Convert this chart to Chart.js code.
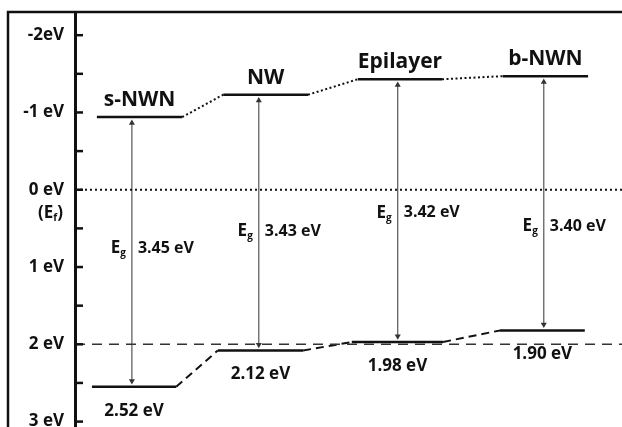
<!DOCTYPE html>
<html>
<head>
<meta charset="utf-8">
<script src="https://cdn.jsdelivr.net/npm/chart.js@4.4.0/dist/chart.umd.min.js"></script>
<style>
  html, body { margin: 0; padding: 0; background: #fff; }
  #wrap { width: 622px; height: 427px; }
</style>
</head>
<body>
<div id="wrap"><canvas id="band"></canvas></div>
<script>
// band edges (eV, Fermi level = 0, up is negative)
var materials = ['s-NWN', 'NW', 'Epilayer', 'b-NWN'];
var cbLevel   = [-0.94, -1.23, -1.43, -1.47];
var vbLevel   = [2.55, 2.08, 1.97, 1.82];
var gapLabels = ['3.45 eV', '3.43 eV', '3.42 eV', '3.40 eV'];
var vbLabels  = ['2.52 eV', '2.12 eV', '1.98 eV', '1.90 eV'];
var fermiLevel = 0;
var refLevel   = 2;

// y axis ticks
var tickValues = [-2, -1.5, -1, -0.5, 0, 0.5, 1, 1.5, 2, 2.5, 3];
var tickLabels = {'-2': '-2eV', '-1': '-1 eV', '0': '0 eV', '1': '1 eV', '2': '2 eV', '3': '3 eV'};

// where each material sits along the (unlabelled) x axis, 0..10
var cbFrom = [0.40, 2.71, 5.17, 7.82];
var cbTo   = [1.96, 4.26, 6.71, 9.38];
var vbFrom = [0.31, 2.61, 5.06, 7.77];
var vbTo   = [1.85, 4.17, 6.73, 9.32];
var arrowX = [1.04, 3.36, 5.90, 8.57];
var gapTextAt = [0.76, 0.54, 0.30, 0.47];

var FONT = '"Open Sans", Lato, sans-serif';
var INK = '#111';

function levelPath(from, to, level) {
    var pts = [];
    for (var i = 0; i < level.length; i++) {
        pts.push({x: from[i], y: level[i]});
        pts.push({x: to[i], y: level[i]});
    }
    return pts;
}

function arrowPoints() {
    var pts = [], h = 0.075;
    for (var i = 0; i < arrowX.length; i++) {
        pts.push({x: arrowX[i], y: cbLevel[i] + h});
        pts.push({x: arrowX[i], y: vbLevel[i] - h});
        pts.push({x: arrowX[i], y: null});
    }
    return pts;
}

var textPlugin = {
    id: 'bandText',
    afterDraw: function(chart) {
        var ctx = chart.ctx, xs = chart.scales.x, ys = chart.scales.y;
        var area = chart.chartArea;
        ctx.save();

        // outer frame
        ctx.strokeStyle = INK;
        ctx.lineWidth = 2.5;
        ctx.beginPath();
        ctx.moveTo(8, chart.height + 2);
        ctx.lineTo(8, area.top);
        ctx.lineTo(chart.width + 2, area.top);
        ctx.stroke();

        // tick marks pointing into the plot
        ctx.lineWidth = 2.5;
        ys.ticks.forEach(function(t) {
            var py = ys.getPixelForValue(t.value);
            ctx.beginPath();
            ctx.moveTo(area.left, py);
            ctx.lineTo(area.left + 8, py);
            ctx.stroke();
        });

        ctx.fillStyle = INK;

        // (Ef) under 0 eV
        var fy = ys.getPixelForValue(fermiLevel) + 23;
        ctx.textBaseline = 'middle';
        ctx.textAlign = 'left';
        ctx.font = 'bold 17px ' + FONT;
        var w1 = ctx.measureText('(E').width;
        ctx.font = 'bold 10px ' + FONT;
        var w2 = ctx.measureText('f').width;
        ctx.font = 'bold 17px ' + FONT;
        var w3 = ctx.measureText(')').width;
        var fx = 63 - (w1 + w2 + w3);
        ctx.fillText('(E', fx, fy);
        ctx.font = 'bold 10px ' + FONT;
        ctx.fillText('f', fx + w1, fy + 5);
        ctx.font = 'bold 17px ' + FONT;
        ctx.fillText(')', fx + w1 + w2, fy);

        for (var i = 0; i < materials.length; i++) {
            // material name above conduction band
            var cx = xs.getPixelForValue((cbFrom[i] + cbTo[i]) / 2);
            var cy = ys.getPixelForValue(cbLevel[i]);
            ctx.font = 'bold 21px ' + FONT;
            ctx.textAlign = 'center';
            ctx.textBaseline = 'middle';
            ctx.fillText(materials[i], cx, cy - 17);

            // valence band value below
            var vx = xs.getPixelForValue((vbFrom[i] + vbTo[i]) / 2);
            var vy = ys.getPixelForValue(vbLevel[i]);
            ctx.font = 'bold 17px ' + FONT;
            ctx.fillText(vbLabels[i], vx, vy + 24);

            // Eg label beside the arrow
            var ax = xs.getPixelForValue(arrowX[i]);
            var gy = ys.getPixelForValue(gapTextAt[i]);
            ctx.font = 'bold 16px ' + FONT;
            ctx.textAlign = 'left';
            ctx.fillText(gapLabels[i], ax + 6, gy);
            ctx.font = 'bold 10px ' + FONT;
            var gw = ctx.measureText('g').width;
            ctx.font = 'bold 17px ' + FONT;
            var ew = ctx.measureText('E').width;
            var ex = ax - 6 - gw - ew;
            ctx.fillText('E', ex, gy);
            ctx.font = 'bold 10px ' + FONT;
            ctx.fillText('g', ex + ew, gy + 5);
        }
        ctx.restore();
    }
};

var chart = new Chart(document.getElementById('band'), {
    type: 'line',
    data: {
        datasets: [
            {
                data: [{x: 0, y: fermiLevel}, {x: 10, y: fermiLevel}],
                borderColor: INK,
                borderWidth: 2,
                borderDash: [2, 3],
                pointRadius: 0
            },
            {
                data: [{x: 0, y: refLevel}, {x: 10, y: refLevel}],
                borderColor: '#333',
                borderWidth: 1.4,
                borderDash: [10, 7],
                pointRadius: 0
            },
            {
                data: levelPath(cbFrom, cbTo, cbLevel),
                borderColor: INK,
                borderWidth: 2.5,
                pointRadius: 0,
                segment: {
                    borderDash: function(c) { return c.p0DataIndex % 2 === 1 ? [2, 2.5] : undefined; },
                    borderWidth: function(c) { return c.p0DataIndex % 2 === 1 ? 2 : undefined; }
                }
            },
            {
                data: levelPath(vbFrom, vbTo, vbLevel),
                borderColor: INK,
                borderWidth: 2.5,
                pointRadius: 0,
                segment: {
                    borderDash: function(c) { return c.p0DataIndex % 2 === 1 ? [8, 5] : undefined; },
                    borderWidth: function(c) { return c.p0DataIndex % 2 === 1 ? 2 : undefined; }
                }
            },
            {
                data: arrowPoints(),
                borderColor: '#555',
                borderWidth: 1.2,
                spanGaps: false,
                pointStyle: 'triangle',
                pointRadius: 3.5,
                pointBackgroundColor: '#333',
                pointBorderColor: '#333',
                pointBorderWidth: 0,
                pointRotation: function(c) { return c.dataIndex % 3 === 0 ? 0 : 180; }
            }
        ]
    },
    options: {
        responsive: true,
        maintainAspectRatio: false,
        animation: false,
        layout: {autoPadding: false, padding: {left: 8, top: 12, right: 0, bottom: 0}},
        plugins: {legend: {display: false}, tooltip: {enabled: false}},
        scales: {
            x: {type: 'linear', min: 0, max: 10, display: false},
            y: {
                reverse: true,
                min: -2.3,
                max: 3.07,
                afterBuildTicks: function(scale) {
                    scale.ticks = tickValues.map(function(v) { return {value: v}; });
                },
                afterFit: function(scale) {
                    scale.width = 67;
                    scale.paddingTop = 0;
                    scale.paddingBottom = 0;
                },
                grid: {drawOnChartArea: false, drawTicks: false},
                border: {display: true, color: INK, width: 3},
                ticks: {
                    padding: 11,
                    color: INK,
                    font: {family: FONT, size: 17, weight: 'bold'},
                    callback: function(v) { return tickLabels[String(v)] || ''; }
                }
            }
        }
    },
    plugins: [textPlugin]
});
</script>
</body>
</html>
